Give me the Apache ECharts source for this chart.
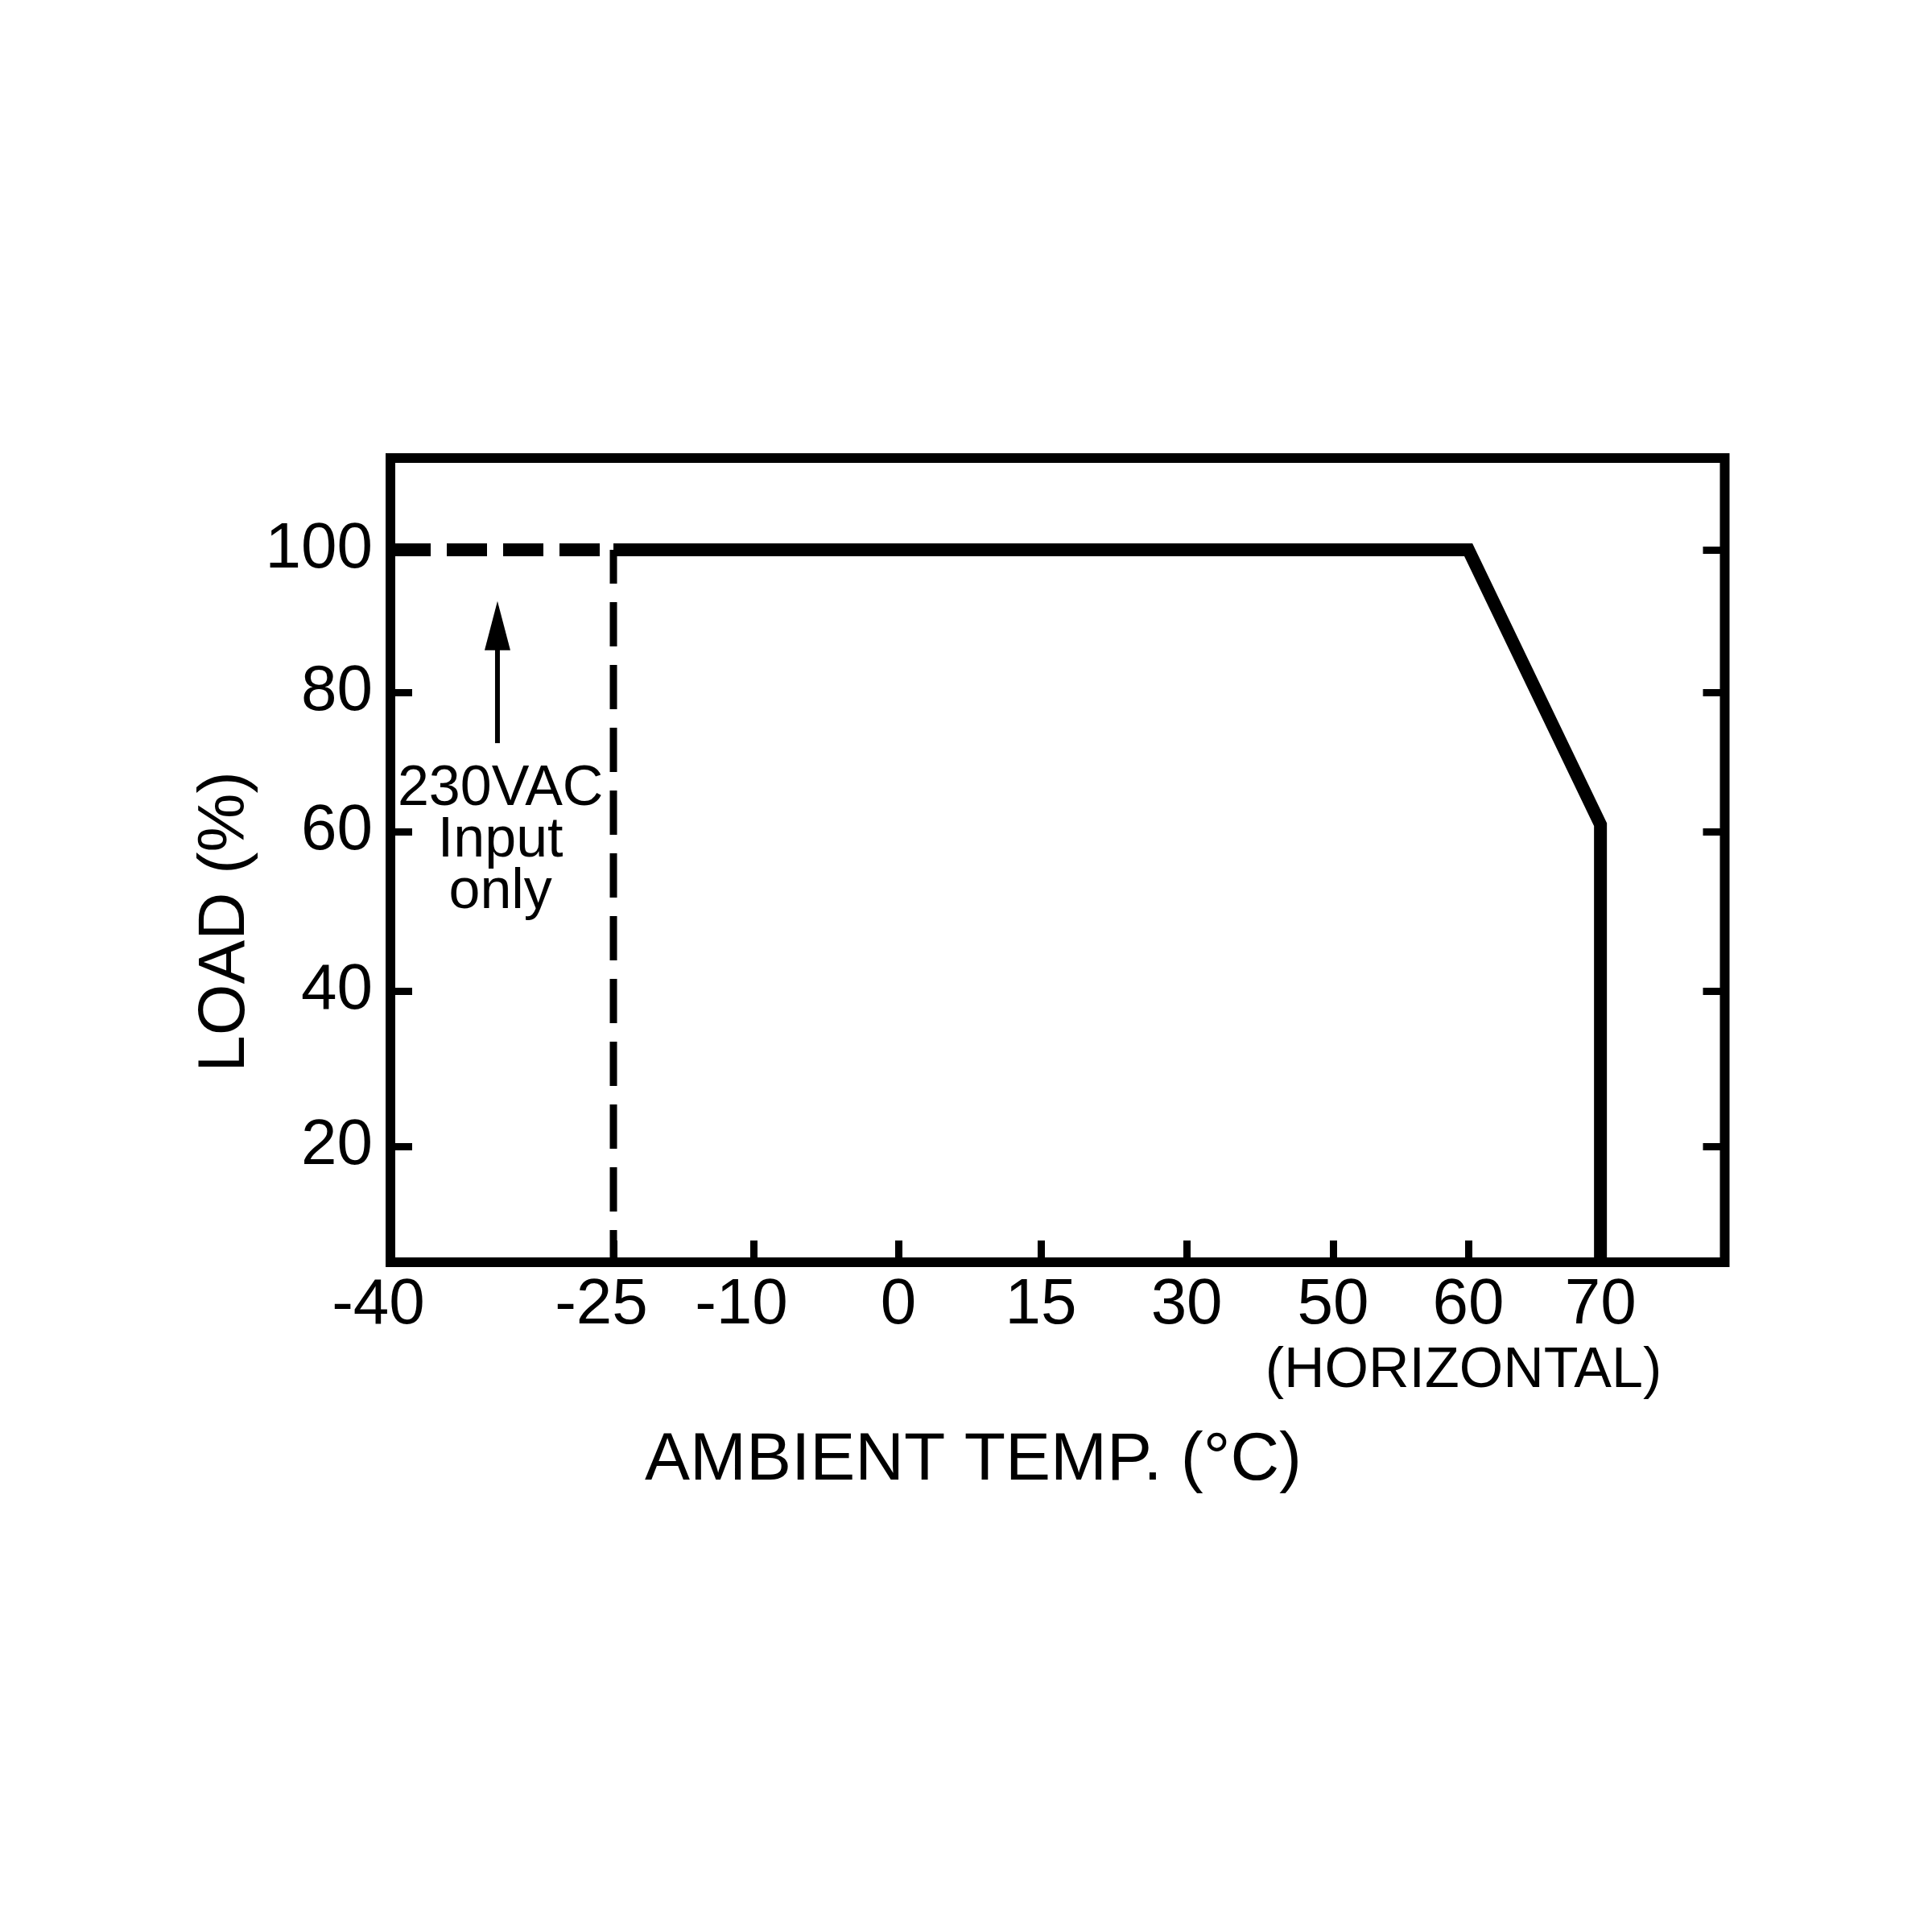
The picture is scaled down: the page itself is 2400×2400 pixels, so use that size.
<!DOCTYPE html>
<html><head><meta charset="utf-8">
<script src="https://cdn.jsdelivr.net/npm/echarts@6/dist/echarts.min.js"></script>
<style>html,body{margin:0;padding:0;background:#fff}#c{width:2400px;height:2400px}</style>
</head><body><div id="c"></div>
<script>
// The printed axes are not linear: each printed tick sits on a "slot" of the drawing
const xTickTemps = [-40, -25, -10, 0, 15, 30, 50, 60, 70];
const xTickSlots = [0, 1.565, 2.548, 3.565, 4.565, 5.588, 6.616, 7.565, 8.492];
const xSlotMax = 9.364;
const yTickLoads = [20, 40, 60, 80, 100];
const yTickSlots = [1.44, 3.37, 5.35, 7.08, 8.85];
const ySlotMin = 0, ySlotMax = 9.99;

// Derating curve (solid)
const curveTemp = [-25, 60, 70, 70];
const curveLoad = [100, 100, 61, 0];
// 230VAC-input-only extension (dashed)
const extTemp = [-40, -25];
const extLoad = [100, 100];
const limitTemp = [-25, -25];
const limitLoad = [100, 0];
// Annotation
const arrowTemp = -32.8, arrowFromLoad = 72.7, arrowToLoad = 92.8;
const noteTemp = -32.6, noteLoad = 58.8;
const noteText = '230VAC\nInput\nonly';
const xTitle = 'AMBIENT TEMP. (°C)';
const xSubTitle = '(HORIZONTAL)';
const yTitle = 'LOAD (%)';

const FONT = '"Liberation Sans", Arial, Helvetica, sans-serif';

function interp(v, ks, ss) {
  let i = 0;
  while (i < ks.length - 2 && v > ks[i + 1]) i++;
  const f = (v - ks[i]) / (ks[i + 1] - ks[i]);
  return ss[i] + f * (ss[i + 1] - ss[i]);
}
const toXSlot = t => interp(t, xTickTemps, xTickSlots);
// values below the printed axis floor are clamped to the axis bottom
const toYSlot = l => Math.max(ySlotMin, Math.min(ySlotMax, interp(l, yTickLoads, yTickSlots)));
function pairs(ts, ls) { return ts.map((t, i) => [toXSlot(t), toYSlot(ls[i])]); }
function lookup(v, ss, ks) {
  for (let i = 0; i < ss.length; i++) if (Math.abs(ss[i] - v) < 1e-6) return ks[i];
  return null;
}
function xLabel(v) {
  const t = lookup(v, xTickSlots, xTickTemps);
  if (t === null) return '';
  return t < 0 ? '{neg|' + t + '}' : '{pos|' + t + '}';
}
function yLabel(v) {
  const l = lookup(v, yTickSlots, yTickLoads);
  return l === null ? '' : String(l);
}

const chart = echarts.init(document.getElementById('c'), null, {renderer: 'canvas'});
const tickStyle = {color: '#000', width: 9};
chart.setOption({
  animation: false,
  backgroundColor: '#fff',
  grid: {left: 485, right: 257.5, top: 569, bottom: 832, show: true,
         borderColor: '#000', borderWidth: 12, backgroundColor: 'transparent'},
  xAxis: {
    type: 'value', min: 0, max: xSlotMax,
    axisLine: {show: false}, splitLine: {show: false},
    axisTick: {show: true, inside: true, length: 27, lineStyle: tickStyle, customValues: xTickSlots},
    axisLabel: {
      show: true, customValues: xTickSlots, margin: 14, formatter: xLabel,
      color: '#000', fontFamily: FONT, fontSize: 80,
      rich: {
        neg: {fontFamily: FONT, fontSize: 80, color: '#000', padding: [0, 30, 0, 0]},
        pos: {fontFamily: FONT, fontSize: 80, color: '#000'}
      }
    }
  },
  yAxis: [
    {type: 'value', position: 'left', min: ySlotMin, max: ySlotMax,
     axisLine: {show: false}, splitLine: {show: false},
     axisTick: {show: true, inside: true, length: 27, lineStyle: tickStyle, customValues: yTickSlots},
     axisLabel: {show: true, customValues: yTickSlots, formatter: yLabel, margin: 22,
                 color: '#000', fontFamily: FONT, fontSize: 80}},
    {type: 'value', position: 'right', min: ySlotMin, max: ySlotMax,
     axisLine: {show: false}, splitLine: {show: false},
     axisTick: {show: true, inside: true, length: 27, lineStyle: tickStyle, customValues: yTickSlots},
     axisLabel: {show: false}}
  ],
  series: [
    {type: 'line', name: 'derating', data: pairs(curveTemp, curveLoad), symbol: 'none', clip: true,
     lineStyle: {color: '#000', width: 16, join: 'miter', cap: 'butt'}, z: 3},
    {type: 'line', name: '230VAC ext', data: pairs(extTemp, extLoad), symbol: 'none', clip: true,
     lineStyle: {color: '#000', width: 16, type: [50, 20], cap: 'butt'}, z: 2},
    {type: 'line', name: '230VAC limit', data: pairs(limitTemp, limitLoad), symbol: 'none', clip: true,
     lineStyle: {color: '#000', width: 9, type: [55, 23], dashOffset: 13, cap: 'butt'}, z: 2}
  ]
});

const px = (t, l) => chart.convertToPixel({gridIndex: 0}, [toXSlot(t), toYSlot(l)]);
const tip = px(arrowTemp, arrowToLoad);
const tail = px(arrowTemp, arrowFromLoad);
const headLen = 61, headHalf = 16;
const note = px(noteTemp, noteLoad);

chart.setOption({
  graphic: [
    {type: 'line', shape: {x1: tail[0], y1: tail[1], x2: tip[0], y2: tip[1] + headLen - 4},
     style: {stroke: '#000', lineWidth: 6}},
    {type: 'polygon', shape: {points: [[tip[0], tip[1]], [tip[0] - headHalf, tip[1] + headLen], [tip[0] + headHalf, tip[1] + headLen]]},
     style: {fill: '#000'}},
    {type: 'text', x: note[0], y: note[1],
     style: {text: noteText, fill: '#000', font: '70px ' + FONT, align: 'center', verticalAlign: 'middle', lineHeight: 64}},
    {type: 'text', x: 1209, y: 1815,
     style: {text: xTitle, fill: '#000', font: '84px ' + FONT, align: 'center', verticalAlign: 'middle'}},
    {type: 'text', x: 1818, y: 1704,
     style: {text: xSubTitle, fill: '#000', font: '70px ' + FONT, align: 'center', verticalAlign: 'middle'}},
    {type: 'text', x: 280, y: 1145, rotation: Math.PI / 2,
     style: {text: yTitle, fill: '#000', font: '82px ' + FONT, align: 'center', verticalAlign: 'middle'}}
  ]
});
</script></body></html>
